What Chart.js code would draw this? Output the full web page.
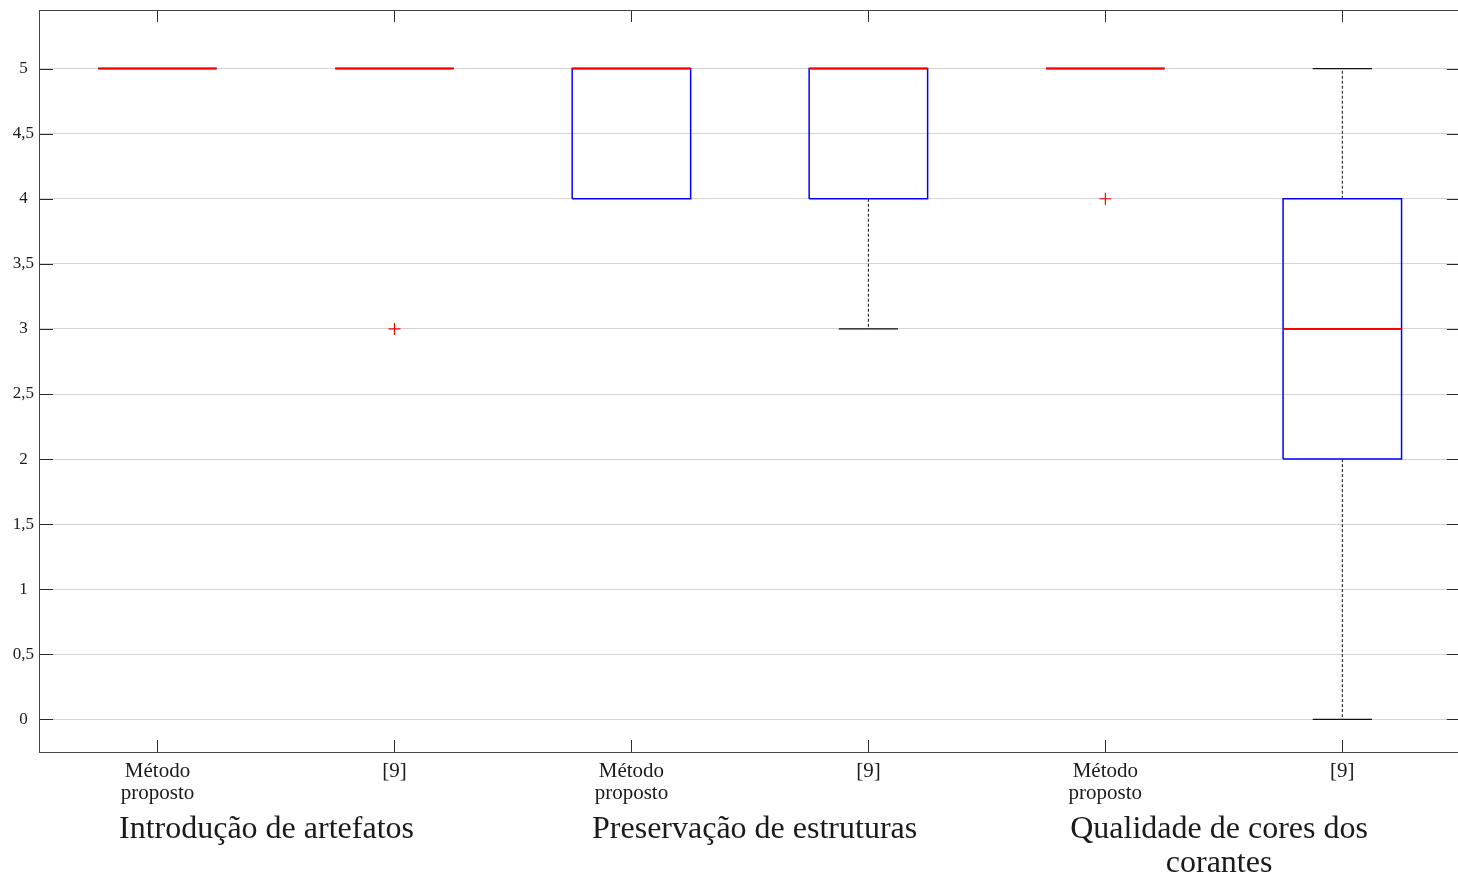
<!DOCTYPE html>
<html>
<head>
<meta charset="utf-8">
<script src="https://cdn.jsdelivr.net/npm/chart.js@4"></script>
<style>
  html, body { margin: 0; padding: 0; overflow: hidden; background: #fff; }
  #wrap { width: 1468px; height: 873px; }
</style>
</head>
<body>
<div id="wrap"><canvas id="boxes"></canvas></div>
<script>
// box plot values
const positions = [1, 2, 3, 4, 5, 6];
const methodLabels = [['Método', 'proposto'], '[9]', ['Método', 'proposto'], '[9]', ['Método', 'proposto'], '[9]'];
const groupNames = [['Introdução de artefatos'], ['Preservação de estruturas'], ['Qualidade de cores dos', 'corantes']];
const groupCenters = [1.46, 3.52, 5.48];
const q1 = [5, 5, 4, 4, 5, 2];
const median = [5, 5, 5, 5, 5, 3];
const q3 = [5, 5, 5, 5, 5, 4];
const whiskerLow = [5, 5, 4, 3, 5, 0];
const whiskerHigh = [5, 5, 5, 5, 5, 5];
const outliers = [[], [3], [], [], [4], []];
const yTicks = [0, 0.5, 1, 1.5, 2, 2.5, 3, 3.5, 4, 4.5, 5];

const boxHalf = 0.25;
const capHalf = 0.125;

// segment lists -> point lists with null gaps
function segs(list) {
  const out = [];
  list.forEach(s => {
    out.push({x: s[0], y: s[1]}, {x: s[2], y: s[3]}, {x: s[2], y: null});
  });
  return out;
}

const boxPts = [];
const medSegs = [];
const whiskSegs = [];
const capSegs = [];
const outPts = [];
positions.forEach((p, i) => {
  const l = p - boxHalf, r = p + boxHalf;
  boxPts.push({x: l, y: q1[i]}, {x: r, y: q1[i]}, {x: r, y: q3[i]}, {x: l, y: q3[i]}, {x: l, y: q1[i]}, {x: l, y: null});
  medSegs.push([l, median[i], r, median[i]]);
  if (whiskerLow[i] < q1[i]) {
    whiskSegs.push([p, q1[i], p, whiskerLow[i]]);
    capSegs.push([p - capHalf, whiskerLow[i], p + capHalf, whiskerLow[i]]);
  }
  if (whiskerHigh[i] > q3[i]) {
    whiskSegs.push([p, q3[i], p, whiskerHigh[i]]);
    capSegs.push([p - capHalf, whiskerHigh[i], p + capHalf, whiskerHigh[i]]);
  }
  outliers[i].forEach(v => outPts.push({x: p, y: v}));
});

const serif = '"Liberation Serif", "DejaVu Serif", serif';

// inward tick marks, frame and group captions
const frame = {
  id: 'frame',
  afterDraw(chart) {
    const {ctx, chartArea: a, scales: {x, y}} = chart;
    ctx.save();
    ctx.strokeStyle = '#2b2b2b';
    ctx.lineWidth = 1;
    ctx.beginPath();
    yTicks.forEach(v => {
      const py = Math.round(y.getPixelForValue(v)) + 0.5;
      ctx.moveTo(a.left, py); ctx.lineTo(a.left + 14, py);
      ctx.moveTo(a.right, py); ctx.lineTo(a.right - 14, py);
    });
    positions.forEach(v => {
      const px = Math.round(x.getPixelForValue(v)) + 0.5;
      ctx.moveTo(px, a.top); ctx.lineTo(px, a.top + 12);
      ctx.moveTo(px, a.bottom); ctx.lineTo(px, a.bottom - 12);
    });
    ctx.stroke();
    ctx.strokeStyle = '#444';
    ctx.strokeRect(Math.round(a.left) + 0.5, Math.round(a.top) + 0.5, Math.round(a.right - a.left), Math.round(a.bottom - a.top));
    ctx.fillStyle = '#1a1a1a';
    ctx.font = '32px ' + serif;
    ctx.textAlign = 'center';
    ctx.textBaseline = 'middle';
    groupNames.forEach((lines, g) => {
      const px = x.getPixelForValue(groupCenters[g]);
      lines.forEach((t, k) => ctx.fillText(t, px, a.bottom + 78 + k * 34));
    });
    ctx.restore();
  }
};

new Chart(document.getElementById('boxes'), {
  type: 'scatter',
  data: {
    datasets: [
      {
        label: 'outliers',
        data: outPts,
        pointStyle: 'cross',
        pointRadius: 6,
        pointBorderWidth: 1.2,
        pointBorderColor: '#ff0000',
        order: 0
      },
      {
        label: 'median',
        data: segs(medSegs),
        showLine: true,
        borderColor: '#ff0000',
        borderWidth: 2,
        pointRadius: 0,
        order: 1
      },
      {
        label: 'box',
        data: boxPts,
        showLine: true,
        borderColor: '#0000ff',
        borderWidth: 1.5,
        pointRadius: 0,
        order: 2
      },
      {
        label: 'caps',
        data: segs(capSegs),
        showLine: true,
        borderColor: '#111',
        borderWidth: 1.2,
        pointRadius: 0,
        order: 3
      },
      {
        label: 'whiskers',
        data: segs(whiskSegs),
        showLine: true,
        borderColor: '#111',
        borderWidth: 1,
        borderDash: [3, 2],
        pointRadius: 0,
        order: 4
      }
    ]
  },
  options: {
    responsive: true,
    maintainAspectRatio: false,
    animation: false,
    layout: { padding: { top: 10, right: 0, left: 0, bottom: 0 } },
    plugins: { legend: { display: false }, tooltip: { enabled: false } },
    scales: {
      x: {
        type: 'linear',
        min: 0.5,
        max: 6.5,
        afterBuildTicks: s => { s.ticks = positions.map(v => ({value: v})); },
        afterFit: s => { s.height = 121; },
        grid: { display: false },
        border: { display: false },
        ticks: {
          padding: 0,
          color: '#1a1a1a',
          font: { family: serif, size: 21, lineHeight: 1.05 },
          maxRotation: 0,
          callback: v => methodLabels[positions.indexOf(v)]
        }
      },
      y: {
        min: -0.25,
        max: 5.45,
        afterBuildTicks: s => { s.ticks = yTicks.map(v => ({value: v})); },
        afterFit: s => { s.width = 39; s.paddingTop = 0; s.paddingBottom = 0; },
        grid: { color: '#d4d4d4', lineWidth: 1, drawTicks: false },
        border: { display: false },
        ticks: {
          padding: 5,
          crossAlign: 'center',
          color: '#1a1a1a',
          font: { family: serif, size: 17 },
          callback: v => String(v).replace('.', ',')
        }
      }
    }
  },
  plugins: [frame]
});
</script>
</body>
</html>
